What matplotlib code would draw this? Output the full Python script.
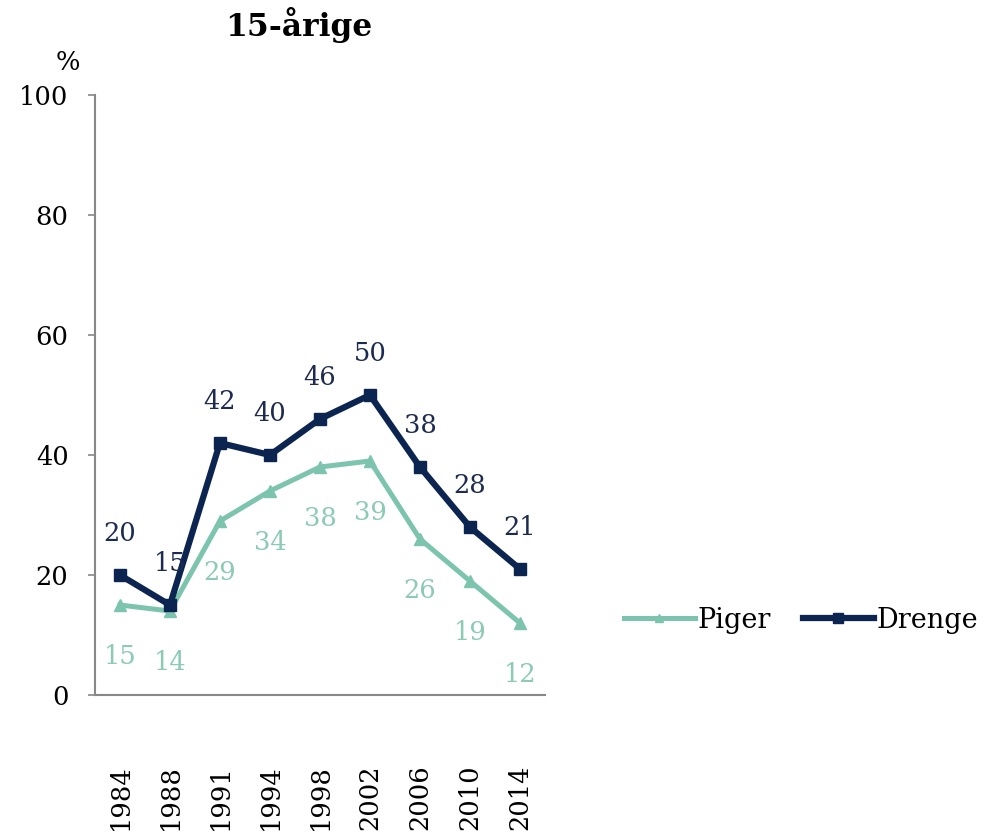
import numpy as np
import matplotlib
matplotlib.use('Agg')
import matplotlib.pyplot as plt

plt.rcParams['font.family'] = ['DejaVu Serif']

years = ['1984', '1988', '1991', '1994', '1998', '2002', '2006', '2010', '2014']
piger = [15, 14, 29, 34, 38, 39, 26, 19, 12]
drenge = [20, 15, 42, 40, 46, 50, 38, 28, 21]

c_piger = '#7cc4ae'
c_drenge = '#0b2550'

fig = plt.figure(figsize=(9.89, 8.39), dpi=100)
ax = fig.add_axes([0.096, 0.1716, 0.455, 0.7152])

x = np.arange(len(years))
ax.plot(x, piger, color=c_piger, lw=3.6, marker='^', ms=8, label='Piger')
ax.plot(x, drenge, color=c_drenge, lw=4.5, marker='s', ms=8.5, label='Drenge')

# datamærker: piger under, drenge over
for xi, v in zip(x, piger):
    ax.annotate(str(v), (xi, v), xytext=(0, -37), textcoords='offset points',
                ha='center', va='center', fontsize=18.5, color='#8ccab5')
for xi, v in zip(x, drenge):
    ax.annotate(str(v), (xi, v), xytext=(0, 30), textcoords='offset points',
                ha='center', va='center', fontsize=18.5, color='#1c2b4f')

ax.set_xlim(-0.5, len(years) - 0.5)
ax.set_ylim(0, 100)
ax.set_yticks([0, 20, 40, 60, 80, 100])
ax.set_xticks(x)
ax.set_xticklabels(years, rotation=90)
ax.tick_params(axis='x', length=0, pad=50, labelsize=18.5)
ax.tick_params(axis='y', length=5, width=1.2, color='#888888', labelsize=18.5, pad=14)

for s in ('top', 'right'):
    ax.spines[s].set_visible(False)
for s in ('left', 'bottom'):
    ax.spines[s].set_color('#888888')
    ax.spines[s].set_linewidth(1.5)

fig.text(0.069, 0.926, '%', fontsize=18.5, ha='center', va='center')
fig.text(0.302, 0.970, '15-årige', fontsize=22.5, fontweight='bold', ha='center', va='center')

fig.legend(loc='center', bbox_to_anchor=(0.81, 0.261), ncol=2, frameon=False,
           fontsize=19.5, handlelength=2.6, handletextpad=0.1, columnspacing=1.2,
           markerscale=0.8)

plt.savefig('out.png', dpi=100)
